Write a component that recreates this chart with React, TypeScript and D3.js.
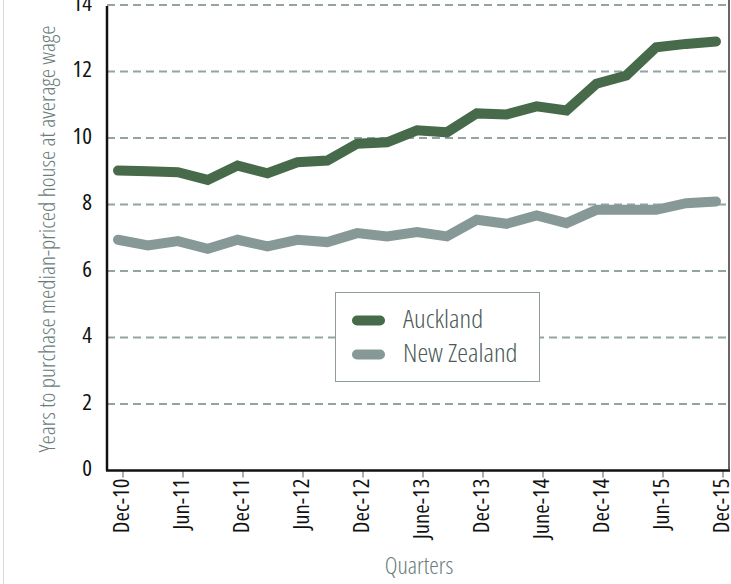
import { useMemo } from "react";
import * as d3 from "d3";

const WIDTH = 731;
const HEIGHT = 584;
const FONT = "'Open Sans', 'DejaVu Sans Condensed', sans-serif";
const SX = 1.09; // widen the condensed face a little

// quarters on the x axis (one point per quarter)
const quarters = [
  "Dec-10", "Mar-11", "Jun-11", "Sep-11", "Dec-11", "Mar-12", "Jun-12", "Sep-12",
  "Dec-12", "Mar-13", "June-13", "Sep-13", "Dec-13", "Mar-14", "June-14", "Sep-14",
  "Dec-14", "Mar-15", "Jun-15", "Sep-15", "Dec-15",
];

// only every second quarter gets a label
const tickLabels = [
  "Dec-10", "Jun-11", "Dec-11", "Jun-12", "Dec-12", "June-13",
  "Dec-13", "June-14", "Dec-14", "Jun-15", "Dec-15",
];

const aucklandValues = [
  9.02, 9.0, 8.97, 8.74, 9.17, 8.94, 9.27, 9.32, 9.83, 9.87, 10.23,
  10.17, 10.74, 10.71, 10.95, 10.83, 11.63, 11.88, 12.73, 12.83, 12.9,
];

const nzValues = [
  6.94, 6.77, 6.9, 6.67, 6.94, 6.74, 6.94, 6.87, 7.14, 7.04, 7.17,
  7.04, 7.54, 7.42, 7.67, 7.44, 7.84, 7.84, 7.84, 8.04, 8.09,
];

const yTicks = [0, 2, 4, 6, 8, 10, 12, 14];

const series = [
  { name: "Auckland", values: aucklandValues, color: "#466a4a" },
  { name: "New Zealand", values: nzValues, color: "#869997" },
];

const PLOT = { left: 107, right: 729, top: 5, bottom: 470.5 };

export default function App() {
  const xScale = useMemo(
    () => d3.scalePoint<string>().domain(quarters).range([118, 716]),
    []
  );
  const tickScale = useMemo(
    () => d3.scalePoint<string>().domain(quarters).range([123, 723]),
    []
  );
  const yScale = useMemo(
    () => d3.scaleLinear().domain([0, 14]).range([PLOT.bottom, PLOT.top]),
    []
  );

  const line = d3
    .line<number>()
    .x((_, i) => xScale(quarters[i]) as number)
    .y((d) => yScale(d));

  return (
    <div style={{ position: "absolute", left: 0, top: 0 }}>
      <svg width={WIDTH} height={HEIGHT} style={{ display: "block", fontFamily: FONT, fontStretch: "75%" }}>
        <rect width={WIDTH} height={HEIGHT} fill="white" />
        {/* faint frame line on the left */}
        <line x1={3.5} x2={3.5} y1={0} y2={HEIGHT} stroke="#d8dcdc" strokeWidth={1} />

        {/* grid */}
        {yTicks.filter((t) => t > 0).map((t) => (
          <line
            key={t}
            x1={PLOT.left}
            x2={PLOT.right}
            y1={yScale(t)}
            y2={yScale(t)}
            stroke="#93a4a2"
            strokeWidth={2}
            strokeDasharray="8,5"
          />
        ))}

        {/* y labels */}
        {yTicks.map((t) => (
          <text
            key={t}
            transform={`translate(92,${yScale(t)}) scale(${SX},1)`}
            textAnchor="end"
            dominantBaseline="middle"
            fontSize={21}
            fill="#111"
          >
            {t}
          </text>
        ))}

        {/* x ticks + labels */}
        {tickLabels.map((q) => {
          const x = tickScale(q) as number;
          return (
            <g key={q}>
              <line x1={x} x2={x} y1={PLOT.bottom} y2={PLOT.bottom + 7} stroke="#8a9694" strokeWidth={1.5} />
              <text
                transform={`translate(${x},${PLOT.bottom + 8}) rotate(-90) scale(${SX},1)`}
                textAnchor="end"
                dominantBaseline="middle"
                fontSize={21}
                fill="#111"
              >
                {q}
              </text>
            </g>
          );
        })}

        {/* axes */}
        <line x1={PLOT.left} x2={PLOT.left} y1={PLOT.top + 1} y2={PLOT.bottom} stroke="#111" strokeWidth={2.5} />
        <line x1={PLOT.left - 1} x2={PLOT.right + 1} y1={PLOT.bottom} y2={PLOT.bottom} stroke="#111" strokeWidth={2.5} />
        <line x1={PLOT.right} x2={PLOT.right} y1={0} y2={PLOT.bottom} stroke="#333" strokeWidth={1.5} />

        {/* series */}
        {series.map((s) => (
          <path
            key={s.name}
            d={line(s.values) || ""}
            fill="none"
            stroke={s.color}
            strokeWidth={10}
            strokeLinecap="round"
            strokeLinejoin="miter"
          />
        ))}

        {/* legend */}
        <rect x={335.5} y={292.5} width={204} height={89} fill="white" stroke="#8e9c9a" strokeWidth={1} />
        {series.map((s, i) => (
          <g key={s.name} transform={`translate(0,${320.5 + i * 34})`}>
            <line x1={357} x2={380} y1={0} y2={0} stroke={s.color} strokeWidth={10} strokeLinecap="round" />
            <text
              transform={`translate(403,1) scale(${SX},1)`}
              dominantBaseline="middle"
              fontSize={25}
              fontWeight={300}
              fill="#4b5a58"
            >
              {s.name}
            </text>
          </g>
        ))}

        {/* axis titles */}
        <text
          transform={`translate(419,568) scale(1.05,1)`}
          textAnchor="middle"
          dominantBaseline="middle"
          fontSize={23}
          fontWeight={300}
          fill="#6a7c7a"
        >
          Quarters
        </text>
        <text
          transform={`translate(49,239) rotate(-90) scale(1.04,1)`}
          textAnchor="middle"
          dominantBaseline="middle"
          fontSize={22.5}
          fontWeight={300}
          fill="#6a7c7a"
        >
          Years to purchase median-priced house at average wage
        </text>
      </svg>
    </div>
  );
}
